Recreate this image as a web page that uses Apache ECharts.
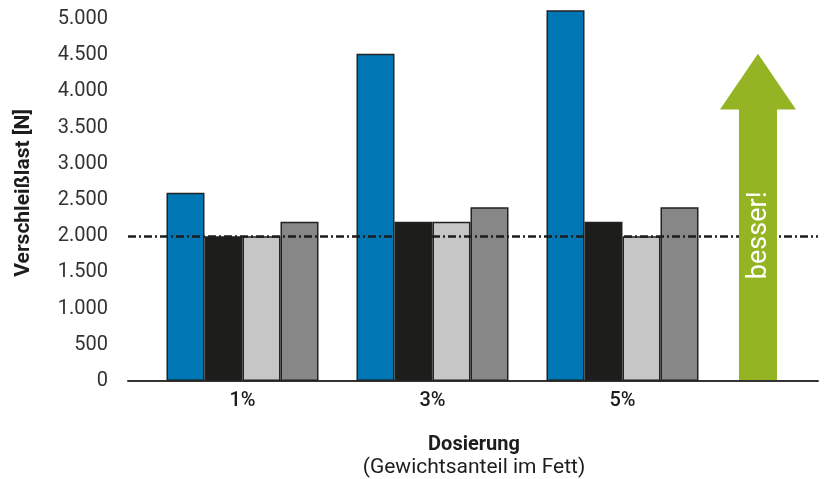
<!DOCTYPE html>
<html><head><meta charset="utf-8">
<script src="https://cdn.jsdelivr.net/npm/echarts@6/dist/echarts.min.js"></script>
<style>html,body{margin:0;padding:0;background:#fff}#c{width:824px;height:479px}</style>
</head><body><div id="c"></div>
<script>
const categories = ['1%', '3%', '5%'];
const seriesA = [2600, 4520, 5120]; // blue
const seriesB = [2000, 2200, 2200]; // black
const seriesC = [2000, 2200, 2000]; // light grey
const seriesD = [2200, 2400, 2400]; // grey
const referenceLine = 2000;
const arrowX = 9.13;        // position on hidden helper axis (0..10)
const arrowTop = 4520;      // tip of arrow
const arrowHeadBase = 3750; // base of arrowhead
const arrowLabel = 'besser!';

const colors = ['#0076b5', '#1d1d1b', '#c6c6c6', '#878787'];
const font = 'Roboto, "Noto Sans", sans-serif';
const chart = echarts.init(document.getElementById('c'), null, {renderer: 'canvas'});

function fmt(v) {
  if (v > 5000) return '';
  return v >= 1000 ? String(v).replace(/(\d)(\d{3})$/, '$1.$2') : String(v);
}

const barSeries = [seriesA, seriesB, seriesC, seriesD].map((d, i) => ({
  type: 'bar', xAxisIndex: 1, yAxisIndex: 1, data: d, barGap: 0, barCategoryGap: '20%',
  itemStyle: {color: colors[i], borderColor: '#222', borderWidth: 1.5}, z: 2,
  emphasis: {disabled: true}
}));

chart.setOption({
  animation: false,
  textStyle: {fontFamily: font},
  title: {
    text: 'Dosierung', subtext: '(Gewichtsanteil im Fett)',
    left: 469, textAlign: 'center', top: 430, itemGap: 2,
    textStyle: {fontSize: 20, fontWeight: 'bold', color: '#1d1d1b', fontFamily: font},
    subtextStyle: {fontSize: 21, color: '#1d1d1b', fontFamily: font}
  },
  grid: [
    {left: 128, right: 6, top: 4.5, bottom: 98},
    {left: 147.5, right: 106.5, top: 4.5, bottom: 98}
  ],
  xAxis: [
    {type: 'value', gridIndex: 0, min: 0, max: 10, axisLine: {show: true, onZero: false, lineStyle: {color: '#333', width: 2}},
     axisTick: {show: false}, axisLabel: {show: false}, splitLine: {show: false}},
    {type: 'category', gridIndex: 1, data: categories, axisLine: {show: false}, axisTick: {show: false},
     axisLabel: {fontSize: 20, fontWeight: 500, color: '#1d1d1b', margin: 10, fontFamily: font}}
  ],
  yAxis: [
    {type: 'value', gridIndex: 0, min: 0, max: 5200, interval: 500,
     name: 'Verschleißlast [N]', nameLocation: 'middle', nameGap: 94,
     nameTextStyle: {fontSize: 21, fontWeight: 'bold', color: '#1d1d1b', fontFamily: font},
     axisLine: {show: false}, axisTick: {show: false}, splitLine: {show: false},
     axisLabel: {fontSize: 20, color: '#333', margin: 20, formatter: fmt, fontFamily: font}},
    {type: 'value', gridIndex: 1, min: 0, max: 5200, interval: 500, show: false}
  ],
  series: barSeries.concat([
    {type: 'line', xAxisIndex: 0, yAxisIndex: 0, data: [], z: 3,
     markLine: {silent: true, symbol: 'none', label: {show: false}, z: 3,
       lineStyle: {color: '#1d1d1b', width: 2.5, type: [8, 3, 2, 3]},
       data: [{yAxis: referenceLine}]}},
    {type: 'custom', xAxisIndex: 0, yAxisIndex: 0, z: 10, silent: true,
     data: [[arrowX, arrowTop, arrowHeadBase]],
     renderItem: function (params, api) {
       const tip = api.coord([api.value(0), api.value(1)]);
       const base = api.coord([api.value(0), api.value(2)]);
       const bottom = api.coord([api.value(0), 0]);
       const cx = tip[0], sw = 19, hw = 38;
       return {type: 'group', children: [
         {type: 'polygon', z2: 10, shape: {points: [
           [cx, tip[1]], [cx + hw, base[1]], [cx + sw, base[1]], [cx + sw, bottom[1] - 1],
           [cx - sw, bottom[1] - 1], [cx - sw, base[1]], [cx - hw, base[1]]]},
          style: {fill: '#95b424'}},
         {type: 'text', z2: 11, x: cx + 1, y: (base[1] + bottom[1]) / 2 - 10, rotation: Math.PI / 2,
          style: {text: arrowLabel, fill: '#fff', fontSize: 27, fontFamily: font,
                  align: 'center', verticalAlign: 'middle'}}
       ]};
     }}
  ])
});
</script></body></html>
